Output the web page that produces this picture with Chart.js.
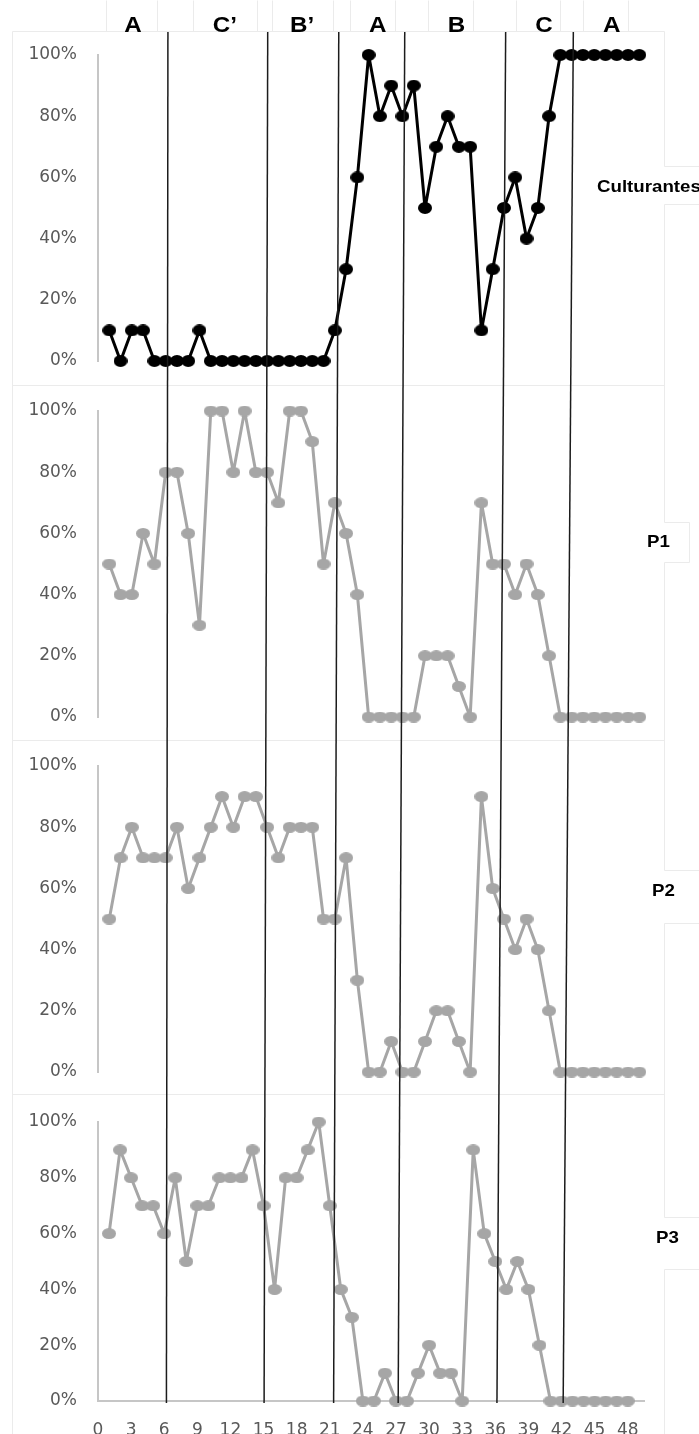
<!DOCTYPE html>
<html>
<head>
<meta charset="utf-8">
<title>Culturantes, P1, P2, P3</title>
<script src="https://cdn.jsdelivr.net/npm/chart.js@4.4.1/dist/chart.umd.min.js"></script>
<style>
  html, body { margin: 0; padding: 0; background: #ffffff; }
  #page { position: relative; width: 699px; height: 1434px; overflow: hidden; background: #ffffff; }
  #page canvas { position: absolute; left: 0; }
</style>
</head>
<body>
<div id="page">
  <canvas id="c0" width="699" height="386" style="top:0px"></canvas>
  <canvas id="c1" width="699" height="355" style="top:386px"></canvas>
  <canvas id="c2" width="699" height="356" style="top:741px"></canvas>
  <canvas id="c3" width="699" height="337" style="top:1097px"></canvas>
</div>
<script>
// Sessions (x values) and the tick labels of the session axis
const sessions = [1,2,3,4,5,6,7,8,9,10,11,12,13,14,15,16,17,18,19,20,21,22,23,24,
                  25,26,27,28,29,30,31,32,33,34,35,36,37,38,39,40,41,42,43,44,45,46,47,48];
const sessionTicks = [0,3,6,9,12,15,18,21,24,27,30,33,36,39,42,45,48];
const percentTicks = [0,20,40,60,80,100];

// Percentage per session
const culturantes = [10,0,10,10,0,0,0,0,10,0, 0,0,0,0,0,0,0,0,0,0,
                     10,30,60,100,80,90,80,90,50,70, 80,70,70,10,30,50,60,40,50,80,
                     100,100,100,100,100,100,100,100];
const p1 = [50,40,40,60,50,80,80,60,30,100, 100,80,100,80,80,70,100,100,90,50,
            70,60,40,0,0,0,0,0,20,20, 20,10,0,70,50,50,40,50,40,20,
            0,0,0,0,0,0,0,0];
const p2 = [50,70,80,70,70,70,80,60,70,80, 90,80,90,90,80,70,80,80,80,50,
            50,70,30,0,0,10,0,0,10,20, 20,10,0,90,60,50,40,50,40,20,
            0,0,0,0,0,0,0,0];
const p3 = [60,90,80,70,70,60,80,50,70,70, 80,80,80,90,70,40,80,80,90,100,
            70,40,30,0,0,10,0,0,10,20, 10,10,0,90,60,50,40,50,40,20,
            0,0,0,0,0,0,0,0];

// Phases: names, where each name sits, and the session positions of the separators
const phaseNames = ['A', 'C\u2019', 'B\u2019', 'A', 'B', 'C', 'A'];
const phaseLabelAt = [3.1, 11.25, 18.1, 24.8, 31.8, 39.55, 45.55];
const phaseEdges = [6.2, 15.05, 21.35, 27.2, 36.15, 42.15];

// Panel layout (page coordinates)
const panels = [
  { name: 'Culturantes', values: culturantes, color: '#000000', dot: [14, 12],
    top: 0,    height: 386, yTop: 55,   yBottom: 361,  label: [597, 191.5], axisX: false },
  { name: 'P1', values: p1, color: '#a6a6a6', dot: [14, 11],
    top: 386,  height: 355, yTop: 411,  yBottom: 717,  label: [647, 547],   axisX: false },
  { name: 'P2', values: p2, color: '#a6a6a6', dot: [14, 11],
    top: 741,  height: 356, yTop: 766,  yBottom: 1072, label: [652, 896],   axisX: false },
  { name: 'P3', values: p3, color: '#a6a6a6', dot: [14, 11],
    top: 1097, height: 337, yTop: 1122, yBottom: 1401, label: [656, 1243],  axisX: true }
];

const PLOT_LEFT = 98;
const LINE_TOP = 32, LINE_BOTTOM = 1403;

// Faint frame of the figure and of the label boxes (page coordinates)
const frameSegments = [
  [12, 31, 664, 31], [12, 31, 12, 1434],
  [12, 385, 664, 385], [12, 740, 664, 740], [12, 1094, 664, 1094],
  [664, 31, 664, 166], [664, 204, 664, 522], [664, 562, 664, 870],
  [664, 923, 664, 1217], [664, 1269, 664, 1434],
  [664, 166, 699, 166], [664, 204, 699, 204],
  [664, 522, 689, 522], [664, 562, 689, 562], [689, 522, 689, 562],
  [664, 870, 699, 870], [664, 923, 699, 923],
  [664, 1217, 699, 1217], [664, 1269, 699, 1269],
  [106, 0, 106, 31], [157, 0, 157, 31], [193, 0, 193, 31], [257, 0, 257, 31],
  [272, 0, 272, 31], [333, 0, 333, 31], [350, 0, 350, 31], [395, 0, 395, 31],
  [428, 0, 428, 31], [473, 0, 473, 31], [516, 0, 516, 31], [560, 0, 560, 31],
  [583, 0, 583, 31], [628, 0, 628, 31]
];

function ellipseDot(color, w, h) {
  const c = document.createElement('canvas');
  c.width = w; c.height = h;
  const g = c.getContext('2d');
  g.fillStyle = color;
  g.beginPath();
  g.ellipse(w / 2, h / 2, w / 2, h / 2, 0, 0, Math.PI * 2);
  g.fill();
  return c;
}

function boldText(ctx, text, x, y, size, align) {
  ctx.save();
  ctx.font = 'bold ' + size + 'px "Liberation Sans", Arial, sans-serif';
  ctx.fillStyle = '#000000';
  ctx.textBaseline = 'alphabetic';
  ctx.textAlign = align;
  ctx.translate(x, y);
  ctx.scale(1.1, 1);
  ctx.fillText(text, 0, 0);
  ctx.restore();
}

const charts = [];

const overlay = {
  id: 'overlay',
  beforeDraw(chart, args, opts) {
    const p = panels[opts.index];
    const ctx = chart.ctx;
    ctx.save();
    ctx.translate(0, -p.top);
    ctx.strokeStyle = '#ebebeb';
    ctx.lineWidth = 1;
    frameSegments.forEach(([x1, y1, x2, y2]) => {
      ctx.beginPath();
      ctx.moveTo(x1 + 0.5, y1 + 0.5);
      ctx.lineTo(x2 + 0.5, y2 + 0.5);
      ctx.stroke();
    });
    ctx.restore();
  },
  afterDatasetsDraw(chart, args, opts) {
    if (charts.length < panels.length) return;
    const p = panels[opts.index];
    const ctx = chart.ctx;
    const xTop = charts[0].scales.x;
    const xBottom = charts[charts.length - 1].scales.x;
    ctx.save();
    ctx.translate(0, -p.top);
    ctx.strokeStyle = '#1c1c1c';
    ctx.lineWidth = 1.5;
    phaseEdges.forEach(b => {
      ctx.beginPath();
      ctx.moveTo(xTop.getPixelForValue(b), LINE_TOP);
      ctx.lineTo(xBottom.getPixelForValue(b), LINE_BOTTOM);
      ctx.stroke();
    });
    ctx.restore();
  },
  afterDraw(chart, args, opts) {
    const p = panels[opts.index];
    const ctx = chart.ctx;
    ctx.save();
    ctx.translate(0, -p.top);
    boldText(ctx, p.name, p.label[0], p.label[1], 17, 'left');
    if (opts.index === 0) {
      const xs = chart.scales.x;
      phaseNames.forEach((n, i) => {
        boldText(ctx, n, xs.getPixelForValue(phaseLabelAt[i]), 31.5, 22, 'center');
      });
    }
    ctx.restore();
  }
};

panels.forEach((p, i) => {
  const pxPerSession = p.axisX ? 11.036 : 11.277;
  const xMax = 49.5;
  const rightPad = 699 - (PLOT_LEFT + pxPerSession * xMax);
  const tickFont = { family: '"DejaVu Sans", sans-serif', size: 17 };

  const chart = new Chart(document.getElementById('c' + i), {
    type: 'line',
    data: {
      datasets: [{
        label: p.name,
        data: p.values.map((v, k) => ({ x: sessions[k], y: v })),
        borderColor: p.color,
        backgroundColor: p.color,
        borderWidth: 3,
        borderJoinStyle: 'round',
        borderCapStyle: 'round',
        tension: 0,
        pointStyle: ellipseDot(p.color, p.dot[0], p.dot[1]),
        pointRadius: 7,
        clip: false
      }]
    },
    options: {
      responsive: false,
      devicePixelRatio: 1,
      animation: false,
      events: [],
      layout: {
        autoPadding: false,
        padding: {
          left: 0,
          right: rightPad,
          top: p.yTop - p.top,
          bottom: p.axisX ? 0 : (p.top + p.height) - p.yBottom
        }
      },
      scales: {
        x: {
          type: 'linear',
          min: 0,
          max: xMax,
          display: p.axisX,
          afterBuildTicks: s => { s.ticks = sessionTicks.map(v => ({ value: v })); },
          afterFit: s => {
            s.height = p.axisX ? (p.top + p.height) - p.yBottom : 0;
            s.paddingLeft = 0; s.paddingRight = 0;
          },
          grid: { display: false, drawTicks: false },
          border: { display: true, color: '#c6c6c6', width: 2 },
          ticks: {
            padding: 19,
            color: '#595959',
            font: tickFont,
            maxRotation: 0,
            autoSkip: false
          }
        },
        y: {
          type: 'linear',
          min: 0,
          max: 100,
          afterBuildTicks: s => { s.ticks = percentTicks.map(v => ({ value: v })); },
          afterFit: s => {
            s.width = PLOT_LEFT;
            s.paddingTop = 0; s.paddingBottom = 0;
          },
          grid: { display: false, drawTicks: false },
          border: { display: true, color: '#c6c6c6', width: 2 },
          ticks: {
            padding: 21,
            color: '#595959',
            font: tickFont,
            callback: v => v + '%'
          }
        }
      },
      plugins: {
        legend: { display: false },
        tooltip: { enabled: false },
        overlay: { index: i }
      }
    },
    plugins: [overlay]
  });
  charts.push(chart);
});

// Redraw once every panel exists so the phase separators run through all of them
charts.forEach(c => c.update('none'));
</script>
</body>
</html>
